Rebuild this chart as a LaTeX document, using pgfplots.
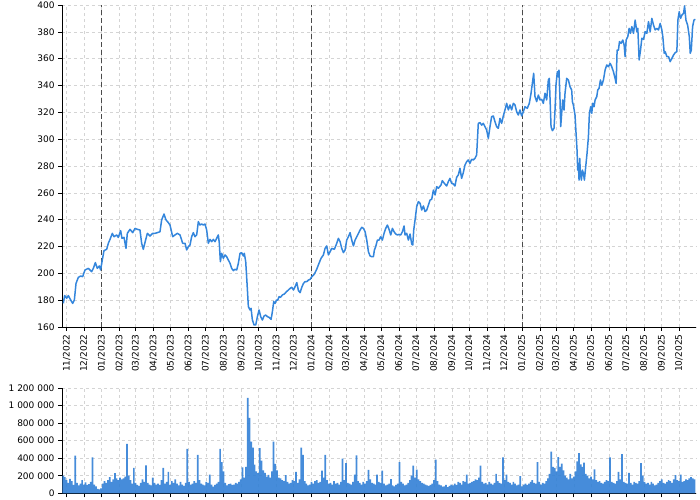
\documentclass[border=0pt]{standalone}
\usepackage{fontspec}
\setmainfont{DejaVu Sans}
\usepackage{pgfplots}
\pgfplotsset{compat=1.18}

\definecolor{priceblue}{RGB}{52,134,220}
\definecolor{volblue}{RGB}{50,128,214}
\definecolor{gridgray}{RGB}{212,212,212}
\definecolor{yearline}{RGB}{75,75,75}

% x = days since 2022-11-01
\pgfplotsset{
  chartbase/.style={
    scale only axis,
    anchor=south west,
    width=634bp,
    xmin=-8, xmax=1094.6,
    axis lines=left,
    axis line style={-, black, line width=0.8bp},
    tick align=outside,
    major tick length=4bp,
    tick style={black, line width=0.6bp},
    grid=major,
    grid style={gridgray, dashed, line width=0.5bp},
    /pgf/number format/assume math mode=true,
    tick label style={font=\fontsize{9bp}{11bp}\selectfont},
    xtick={0,30,61,92,120,151,181,212,242,273,304,334,365,395,426,457,486,517,547,578,608,639,670,700,731,761,792,823,851,882,912,943,973,1004,1035,1065},
  }
}

\begin{document}
\begin{tikzpicture}
\useasboundingbox (0,0) rectangle (700bp,500bp);

% === PRICE ===
\begin{axis}[
  chartbase,
  at={(62bp,173bp)},
  height=322bp,
  ymin=160, ymax=400,
  ytick={160,180,...,400},
  xticklabels={11/2022,12/2022,01/2023,02/2023,03/2023,04/2023,05/2023,06/2023,07/2023,08/2023,09/2023,10/2023,11/2023,12/2023,01/2024,02/2024,03/2024,04/2024,05/2024,06/2024,07/2024,08/2024,09/2024,10/2024,11/2024,12/2024,01/2025,02/2025,03/2025,04/2025,05/2025,06/2025,07/2025,08/2025,09/2025,10/2025},
  x tick label style={rotate=90, anchor=east},
]
% year boundaries
\addplot[yearline, line width=0.9bp, dash pattern=on 5bp off 3bp, forget plot] coordinates {(61,160) (61,400)};
\addplot[yearline, line width=0.9bp, dash pattern=on 5bp off 3bp, forget plot] coordinates {(426,160) (426,400)};
\addplot[yearline, line width=0.9bp, dash pattern=on 5bp off 3bp, forget plot] coordinates {(792,160) (792,400)};

\addplot[priceblue, line width=1.5bp, line join=round] coordinates {
(-5.7,177.6) (-3.4,183.4) (0.1,181.4) (3.0,183.4) (7.1,180.1) (10.6,177.6) (13.5,180.1) (16.4,192.5) (20.4,197.0) (24.5,198.0)
(27.9,197.5) (32.0,202.5) (37.8,203.7) (43.6,201.2) (46.5,203.7) (50.0,208.0) (53.4,203.7) (56.9,205.5) (59.2,202.5) (62.1,210.0)
(65.0,216.9) (69.7,217.9) (72.6,222.4) (75.5,225.3) (79.5,229.8) (82.4,227.3) (87.1,228.6) (89.9,226.8) (94.0,231.8) (96.3,226.1)
(99.8,226.8) (103.3,218.6) (105.6,229.8) (110.3,232.8) (114.9,230.3) (118.9,233.5) (123.0,232.8) (127.6,232.3) (130.5,222.4) (133.4,217.9)
(136.3,222.9) (140.4,229.8) (145.0,227.8) (149.7,229.8) (153.7,229.8) (157.8,230.3) (162.4,231.0) (165.3,239.8) (169.4,244.2) (172.9,239.8)
(176.9,237.8) (179.8,236.0) (184.5,227.3) (188.5,228.6) (192.6,229.8) (197.2,228.6) (201.9,222.4)
(205.9,222.4) (208.8,217.4) (211.7,219.9) (214.6,221.1) (217.5,227.3) (220.4,230.3) (223.3,227.3) (226.2,228.6) (229.1,238.5) (232.0,236.0)
(234.9,236.8) (237.8,236.0) (240.7,236.8) (243.6,232.3) (246.5,222.4) (249.4,225.3) (252.3,223.6) (255.2,225.3) (258.1,223.6) (261.0,226.1)
(263.9,228.6) (265.6,222.4) (267.4,208.7) (269.7,214.9) (272.6,211.2) (275.5,213.7) (278.4,212.4) (281.3,209.9) (284.2,207.5) (287.1,203.7)
(290.0,202.0) (292.9,203.0) (295.8,202.5) (298.7,207.5) (301.6,214.9) (304.5,215.4) (307.4,212.9) (309.1,214.9) (311.5,208.7) (313.8,192.5)
(316.1,175.2) (319.0,172.7) (320.8,173.9) (323.1,165.2) (326.0,161.5) (328.9,161.5) (331.8,167.7) (334.7,172.7) (337.6,167.7) (340.5,165.2)
(343.4,168.2) (346.3,168.9) (349.2,167.7) (352.1,167.2) (355.6,165.7) (357.9,171.4) (360.2,178.9) (362.6,177.6) (364.9,180.1) (367.2,180.1)
(369.5,182.6) (371.9,182.1) (375.3,183.9) (378.8,184.6) (382.3,186.3) (385.8,187.6) (388.7,188.8) (391.6,189.6) (394.5,187.6) (397.4,190.1)
(400.3,193.1) (403.2,187.1) (406.1,185.6) (409.0,189.6) (411.9,192.5) (414.8,193.8) (417.7,193.8) (420.6,195.0) (423.5,195.5) (426.4,197.5)
(431.0,199.5) (434.9,203.0) (439.0,207.5) (442.5,211.2) (446.6,213.7) (449.5,218.6) (452.4,220.4) (455.3,213.7) (458.2,216.1) (461.1,218.6)
(465.7,217.9) (469.8,222.4) (472.7,226.1) (475.6,223.6) (478.5,218.6) (481.4,215.4) (484.3,217.4) (487.2,224.8) (490.1,227.3) (493.0,230.3)
(495.9,224.8) (498.8,220.4) (501.7,224.8) (504.6,227.3) (507.5,229.8) (510.4,232.3) (513.3,234.3) (516.2,233.5) (519.1,231.0) (522.0,224.8)
(524.9,216.1) (527.8,212.9) (530.7,212.4) (533.6,212.4) (535.3,217.4) (537.6,219.9) (540.5,224.8) (543.4,224.8) (546.3,227.3) (549.2,224.8)
(552.1,229.8) (555.0,233.5) (557.9,236.0) (560.8,232.8) (563.7,228.6) (566.6,233.5) (569.5,231.0) (572.4,229.3) (575.3,228.6) (578.2,229.0)
(581.1,228.6) (584.0,231.0) (586.9,235.3) (588.6,228.6) (591.5,229.8) (594.4,224.8) (597.3,229.3) (600.2,221.9) (602.0,221.1) (603.7,232.3)
(606.0,239.8) (608.9,249.7) (611.8,253.4) (614.7,252.2) (617.6,247.2) (620.5,250.2) (623.4,246.0) (626.3,247.2) (629.2,250.9) (632.1,254.7)
(635.0,255.2) (637.9,262.1) (640.8,258.4) (643.6,264.6) (646.5,263.4) (651.1,265.8) (653.4,269.1) (656.9,267.1) (660.9,265.1) (663.8,268.3)
(666.7,270.8) (669.6,267.1) (672.5,266.6) (675.4,265.1) (678.3,271.6) (681.2,273.3) (684.1,278.3) (687.0,270.8) (689.9,275.0) (692.8,280.7)
(695.7,283.2) (698.6,284.5) (701.5,282.0) (704.4,285.0) (707.3,284.5) (710.2,285.7) (713.1,288.2) (716.0,311.8) (718.9,312.3) (721.8,310.5)
(724.7,311.8) (727.6,309.3) (730.5,306.8) (733.4,300.6) (736.3,309.3) (739.2,316.8) (742.1,317.3) (745.0,313.0) (747.9,309.3) (750.8,308.1)
(753.7,315.5) (756.6,311.8) (759.5,317.3) (762.4,321.8) (765.3,326.7) (768.2,321.8) (771.1,325.5) (774.0,321.8) (776.9,326.7) (779.8,325.5)
(782.7,320.5) (785.6,318.0) (788.5,321.8) (791.4,317.3) (794.3,320.5) (797.2,324.2) (801.2,323.0) (804.7,326.7) (807.7,334.2) (810.0,341.6)
(812.3,349.1) (814.6,331.7) (817.5,328.0) (820.4,332.9) (823.3,329.2) (826.2,329.7) (829.1,326.7) (832.0,334.2) (834.9,329.2) (837.8,344.1)
(839.5,345.3) (842.5,309.3) (844.8,306.3) (847.7,308.1) (849.4,321.7) (851.1,340.4) (853.5,350.3) (855.2,346.6) (856.3,351.5) (858.1,329.2)
(859.3,309.3) (861.0,319.3) (862.8,329.2) (865.1,321.7) (866.8,334.2) (869.7,345.3) (872.6,344.1) (875.5,339.1) (878.4,336.6) (879.6,328.0)
(881.3,325.5) (884.2,318.0) (886.0,304.3) (887.7,291.9) (888.9,277.0) (890.0,282.0) (891.2,269.5) (892.4,285.7) (893.5,274.5) (895.3,269.5)
(897.0,277.0) (898.8,274.5) (900.5,269.5) (902.8,279.5) (905.1,289.4) (907.5,301.8) (909.2,319.3) (911.5,324.2) (913.3,319.3) (915.0,326.7)
(917.3,324.2) (919.1,329.2) (922.0,331.7) (923.7,336.6) (926.0,337.9) (928.4,344.1) (930.7,340.2) (933.6,344.1) (936.5,351.5) (939.4,355.3)
(942.3,354.0) (945.2,356.5) (948.1,354.0) (951.0,350.3) (953.9,345.3) (955.7,341.6) (957.4,366.4) (959.7,366.4) (961.5,372.7) (964.4,371.4)
(967.3,373.9) (969.6,370.2) (971.3,361.5) (973.1,373.9) (976.0,376.4) (978.3,382.6) (980.6,378.9) (983.0,383.9) (985.9,378.9) (988.8,388.8)
(991.7,380.1) (993.4,382.6) (995.7,359.0) (998.1,366.4) (1000.4,375.2) (1003.3,374.4) (1006.2,380.1) (1009.1,378.9) (1012.0,387.6) (1014.9,380.1)
(1017.8,390.0) (1020.7,385.1) (1023.6,381.4) (1026.5,382.6) (1029.4,381.4) (1032.3,386.3) (1035.2,381.4) (1036.9,376.4) (1039.3,364.0) (1041.0,365.2)
(1043.9,361.5) (1046.8,361.5) (1049.7,357.8) (1052.6,360.2) (1055.5,362.7) (1058.4,364.5) (1061.3,365.2) (1063.1,388.8) (1065.4,395.0) (1067.7,390.0)
(1070.1,392.5) (1073.0,393.8) (1074.7,399.3) (1077.1,388.8) (1080.0,385.1) (1082.9,376.4) (1084.6,364.0) (1086.4,366.4) (1088.7,383.9) (1091.1,388.8)
(1093.4,389.3)
};
\end{axis}

% === VOLUME (thousands) ===
\begin{axis}[
  chartbase,
  at={(62bp,6.7bp)},
  height=105.3bp,
  ymin=0, ymax=1200,
  ytick={0,200,400,600,800,1000,1200},
  yticklabels={0,200 000,400 000,600 000,800 000,1 000 000,1 200 000},
  xticklabels={},
]
\addplot[ybar, bar width=3, fill=volblue, draw=none, fill opacity=0.9] coordinates {
(-6,200) (-3,185) (0,150) (3,120) (6,165) (9,140) (12,95) (15,428) (18,120) (21,90)
(24,110) (27,150) (30,100) (33,125) (36,95) (39,105) (42,130) (45,409) (48,100) (51,80)
(54,50) (57,45) (60,55) (63,110) (66,140) (69,120) (72,150) (75,185) (78,130) (81,160)
(84,230) (87,170) (90,150) (93,180) (96,160) (99,170) (102,190) (105,563) (108,200) (111,150)
(114,110) (117,289) (120,120) (123,95) (126,85) (129,120) (132,160) (135,130) (138,319) (141,120)
(144,100) (147,90) (150,180) (153,120) (156,100) (159,110) (162,95) (165,150) (168,289) (171,110)
(174,130) (177,244) (180,95) (183,140) (186,120) (189,160) (192,110) (195,90) (198,130) (201,100)
(204,85) (207,120) (210,506) (213,130) (216,100) (219,110) (222,140) (225,120) (228,439) (231,150)
(234,110) (237,100) (240,90) (243,130) (246,120) (249,214) (252,100) (255,75) (258,95) (261,110)
(264,130) (267,506) (270,356) (273,251) (276,120) (279,90) (282,105) (285,110) (288,95) (291,100)
(294,120) (297,110) (300,130) (303,160) (306,296) (309,180) (312,300) (315,1088) (318,860) (321,589)
(324,521) (327,326) (330,251) (333,230) (336,514) (339,371) (342,260) (345,233) (348,190) (351,210)
(354,180) (357,250) (360,589) (363,334) (366,260) (369,180) (372,170) (375,150) (378,140) (381,206)
(384,130) (387,110) (390,120) (393,150) (396,140) (399,244) (402,120) (405,160) (408,521) (411,439)
(414,140) (417,110) (420,90) (423,100) (426,130) (429,110) (432,140) (435,150) (438,120) (441,130)
(444,259) (447,180) (450,439) (453,150) (456,110) (459,120) (462,100) (465,140) (468,110) (471,120)
(474,100) (477,130) (480,394) (483,150) (486,345) (489,120) (492,110) (495,100) (498,130) (501,214)
(504,431) (507,140) (510,120) (513,100) (516,130) (519,110) (522,140) (525,266) (528,160) (531,120)
(534,110) (537,100) (540,214) (543,130) (546,120) (549,259) (552,110) (555,90) (558,100) (561,110)
(564,161) (567,90) (570,80) (573,95) (576,110) (579,356) (582,130) (585,110) (588,90) (591,100)
(594,120) (597,150) (600,200) (603,315) (606,180) (609,270) (612,160) (615,140) (618,120) (621,110)
(624,100) (627,90) (630,85) (633,95) (636,110) (639,150) (642,383) (645,140) (648,100) (651,90)
(654,75) (657,80) (660,95) (663,70) (666,85) (669,100) (672,90) (675,110) (678,95) (681,130)
(684,120) (687,100) (690,140) (693,130) (696,214) (699,110) (702,120) (705,130) (708,140) (711,160)
(714,150) (717,180) (720,315) (723,130) (726,110) (729,120) (732,100) (735,130) (738,110) (741,100)
(744,120) (747,221) (750,140) (753,120) (756,110) (759,409) (762,150) (765,214) (768,130) (771,120)
(774,100) (777,130) (780,110) (783,90) (786,100) (789,195) (792,80) (795,100) (798,110) (801,95)
(804,110) (807,130) (810,150) (813,120) (816,110) (819,356) (822,130) (825,100) (828,120) (831,110)
(834,140) (837,170) (840,220) (843,476) (846,300) (849,289) (852,250) (855,413) (858,300) (861,338)
(864,260) (867,200) (870,180) (873,160) (876,221) (879,170) (882,190) (885,250) (888,364) (891,458)
(894,330) (897,300) (900,349) (903,220) (906,200) (909,170) (912,190) (915,160) (918,274) (921,150)
(924,130) (927,140) (930,120) (933,110) (936,130) (939,150) (942,140) (945,409) (948,130) (951,120)
(954,110) (957,140) (960,244) (963,160) (966,446) (969,130) (972,120) (975,110) (978,233) (981,120)
(984,100) (987,130) (990,120) (993,110) (996,140) (999,345) (1002,200) (1005,130) (1008,110) (1011,120)
(1014,100) (1017,130) (1020,110) (1023,90) (1026,100) (1029,120) (1032,140) (1035,158) (1038,120) (1041,110)
(1044,130) (1047,150) (1050,140) (1053,120) (1056,160) (1059,206) (1062,150) (1065,140) (1068,214) (1071,130)
(1074,140) (1077,160) (1080,150) (1083,170) (1086,184) (1089,170) (1092,158)
};
\end{axis}
\end{tikzpicture}
\end{document}
